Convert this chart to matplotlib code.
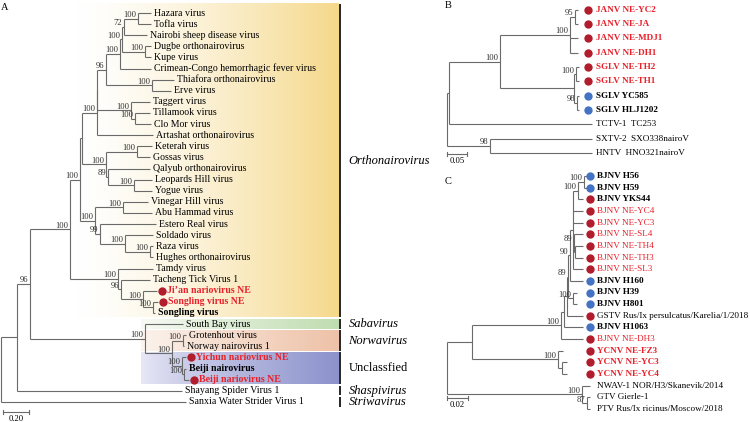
import numpy as np
import matplotlib.pyplot as plt

plt.rcParams['font.family'] = ['Liberation Serif', 'DejaVu Serif']

# ---------------- Panel A : Nairoviridae ----------------
a_leaves = ['Hazara virus', 'Tofla virus', 'Nairobi sheep disease virus', 'Dugbe orthonairovirus',
            'Kupe virus', 'Crimean-Congo hemorrhagic fever virus', 'Thiafora orthonairovirus',
            'Erve virus', 'Taggert virus', 'Tillamook virus', 'Clo Mor virus',
            'Artashat orthonairovirus', 'Keterah virus', 'Gossas virus', 'Qalyub orthonairovirus',
            'Leopards Hill virus', 'Yogue virus', 'Vinegar Hill virus', 'Abu Hammad virus',
            'Estero Real virus', 'Soldado virus', 'Raza virus', 'Hughes orthonairovirus',
            'Tamdy virus', 'Tacheng Tick Virus 1', 'Ji’an nariovirus NE', 'Songling virus NE',
            'Songling virus', 'South Bay virus', 'Grotenhout virus', 'Norway nairovirus 1',
            'Yichun nariovirus NE', 'Beiji nairovirus', 'Beiji nariovirus NE',
            'Shayang Spider Virus 1', 'Sanxia Water Strider Virus 1']
a_tips = [1.154, 1.154, 1.123, 1.154, 1.154, 1.154, 1.331, 1.308, 1.146, 1.146, 1.154, 1.169,
          1.162, 1.146, 1.146, 1.162, 1.162, 1.131, 1.162, 1.192, 1.169, 1.169, 1.169, 1.169,
          1.146, 1.200, 1.208, 1.185, 1.400, 1.423, 1.408, 1.423, 1.423, 1.446, 1.392, 1.423]
a_style = ['n'] * 25 + ['r', 'r', 'b', 'n', 'n', 'n', 'r', 'b', 'r', 'n', 'n']
a_dots = [None] * 25 + ['red', 'red', None, None, None, None, 'red', None, 'red', None, None]
# (node, depth, children, bootstrap)
a_nodes = [
    ('ht', 1.054, [0, 1], '100'), ('htn', 0.946, ['ht', 2], '72'),
    ('dk', 1.108, [3, 4], '100'), ('htndk', 0.931, ['htn', 'dk'], '100'),
    ('crim', 0.915, ['htndk', 5], '100'), ('te', 1.162, [6, 7], '100'),
    ('c96', 0.808, ['crim', 'te'], '96'), ('tc', 1.031, [9, 10], '100'),
    ('ttc', 1.000, [8, 'tc'], '100'), ('bx', 0.742, ['c96', 'ttc'], ''),
    ('b', 0.738, ['bx', 11], '100'), ('kg', 1.046, [12, 13], '100'),
    ('ly', 1.023, [15, 16], '100'), ('qly', 0.823, [14, 'ly'], '89'),
    ('kqly', 0.808, ['kg', 'qly'], '100'), ('cup', 0.623, ['b', 'kqly'], ''),
    ('va', 0.938, [17, 18], '100'), ('rh', 1.146, [21, 22], '100'),
    ('srh', 0.954, [20, 'rh'], '100'), ('esrh', 0.762, [19, 'srh'], '99'),
    ('ve', 0.723, ['va', 'esrh'], '100'), ('c', 0.608, ['cup', 've'], '100'),
    ('ss', 1.169, [26, 27], '100'), ('js', 1.092, [25, 'ss'], '100'),
    ('ts', 0.923, [24, 'js'], '96'), ('tam', 0.900, [23, 'ts'], '100'),
    ('n70', 0.531, ['c', 'tam'], '100'), ('gn', 1.400, [29, 30], '100'),
    ('bb', 1.408, [32, 33], '100'), ('yb', 1.392, [31, 'bb'], '100'),
    ('nw', 1.315, ['gn', 'yb'], '100'), ('sb', 1.108, [28, 'nw'], '100'),
    ('n30', 0.223, ['n70', 'sb'], '96'), ('n17', 0.123, ['n30', 34], ''),
    ('root', 0.0, ['n17', 35], ''),
]
# genus brackets: name, first leaf, last leaf, italic
a_clades = [('Orthonairovirus', 0, 27, True), ('Sabavirus', 28, 28, True),
            ('Norwavirus', 29, 30, True), ('Unclassfied', 31, 33, False),
            ('Shaspivirus', 34, 34, True), ('Striwavirus', 35, 35, True)]

# ---------------- Panel B ----------------
b_leaves = ['JANV NE-YC2', 'JANV NE-JA', 'JANV NE-MDJ1', 'JANV NE-DH1', 'SGLV NE-TH2',
            'SGLV NE-TH1', 'SGLV YC585', 'SGLV HLJ1202', 'TCTV-1  TC253',
            'SXTV-2  SXO338nairoV', 'HNTV  HNO321nairoV']
b_tips = [0.327, 0.327, 0.327, 0.327, 0.330, 0.330, 0.330, 0.330, 0.3625, 0.3625, 0.3625]
b_style = ['r'] * 6 + ['b', 'b', 'n', 'n', 'n']
b_dots = ['red'] * 6 + ['blue', 'blue', None, None, None]
b_nodes = [
    ('yj', 0.320, [0, 1], '95'), ('j', 0.3075, ['yj', 2, 3], '100'),
    ('th', 0.3225, [4, 5], '100'), ('sg', 0.325, [6, 7], '98'),
    ('s', 0.3175, ['th', 'sg'], ''), ('js', 0.1325, ['j', 's'], '100'),
    ('b1', 0.005, ['js', 8], ''), ('sh', 0.1075, [9, 10], '98'),
    ('root', 0.0, ['b1', 'sh'], ''),
]

# ---------------- Panel C ----------------
c_leaves = ['BJNV H56', 'BJNV H59', 'BJNV YKS44', 'BJNV NE-YC4', 'BJNV NE-YC3', 'BJNV NE-SL4',
            'BJNV NE-TH4', 'BJNV NE-TH3', 'BJNV NE-SL3', 'BJNV H160', 'BJNV H39', 'BJNV H801',
            'GSTV Rus/Ix persulcatus/Karelia/1/2018', 'BJNV H1063', 'BJNV NE-DH3',
            'YCNV NE-FZ3', 'YCNV NE-YC3', 'YCNV NE-YC4', 'NWAV-1 NOR/H3/Skanevik/2014',
            'GTV Gierle-1', 'PTV Rus/Ix ricinus/Moscow/2018']
c_tips = [0.1333, 0.1333, 0.1295, 0.1295, 0.1295, 0.1295, 0.1295, 0.1295, 0.1295, 0.1295,
          0.1238, 0.1238, 0.1295, 0.1295, 0.1295, 0.1105, 0.1143, 0.1143, 0.1362, 0.1362, 0.1362]
c_style = ['b', 'b', 'b'] + ['rn'] * 6 + ['b', 'b', 'b', 'n', 'b', 'rn', 'r', 'r', 'r', 'n', 'n', 'n']
c_dots = ['blue', 'blue', 'red'] + ['red'] * 6 + ['blue', 'blue', 'blue', 'red', 'blue', 'red',
                                                   'red', 'red', 'red', None, None, None]
c_nodes = [
    ('a', 0.1305, [0, 1], '100'), ('b', 0.1248, ['a', 2], '100'),
    ('c2', 0.1219, [6, 7], ''), ('c1', 0.1210, [5, 'c2'], '89'),
    ('c', 0.1200, ['b', 3, 4, 'c1', 8], ''), ('e', 0.1171, ['c', 9], '90'),
    ('h', 0.1200, [10, 11], '100'), ('f', 0.1152, ['e', 'h'], '89'),
    ('g', 0.1143, ['f', 12], ''), ('hh', 0.1114, ['g', 13], ''),
    ('i', 0.1086, ['hh', 14], '100'), ('yc', 0.1095, [16, 17], ''),
    ('y', 0.1057, [15, 'yc'], '100'), ('j', 0.0238, ['i', 'y'], ''),
    ('gp', 0.1333, [19, 20], '87'), ('nw', 0.1286, [18, 'gp'], '100'),
    ('root', 0.0, ['j', 'nw'], ''),
]

LINE = '#6a6a6a'
RED_TXT = '#e8212b'
DOT = {'red': '#b11d2c', 'blue': '#4573c4'}
W, H = 750, 422

fig = plt.figure(figsize=(W / 100, H / 100), dpi=100)


def make_axes(px_left, px_top, px_w, px_h, x0_px, px_per_unit, row0_px, row_px):
    ax = fig.add_axes([px_left / W, 1 - (px_top + px_h) / H, px_w / W, px_h / H])
    ax.set_xlim((px_left - x0_px) / px_per_unit, (px_left + px_w - x0_px) / px_per_unit)
    ax.set_ylim((px_top + px_h - row0_px) / row_px, (px_top - row0_px) / row_px)
    ax.axis('off')
    return ax


def draw_tree(ax, nodes, tips, px_per_unit, row_px, fs=6.2):
    info = {n[0]: n for n in nodes}
    ypos = {}

    def y_of(k):
        if isinstance(k, int):
            return k
        if k not in ypos:
            ch = info[k][2]
            ypos[k] = (y_of(ch[0]) + y_of(ch[-1])) / 2
        return ypos[k]

    def x_of(k):
        return tips[k] if isinstance(k, int) else info[k][1]

    for name, depth, children, boot in nodes:
        y = y_of(name)
        ys = [y_of(c) for c in children]
        ax.plot([depth, depth], [min(ys), max(ys)], color=LINE, lw=0.8, solid_capstyle='butt')
        for c in children:
            ax.plot([depth, x_of(c)], [y_of(c), y_of(c)], color=LINE, lw=0.8,
                    solid_capstyle='butt')
        if boot:
            ax.text(depth - 1.5 / px_per_unit, y - 1.5 / row_px, boot, ha='right',
                    va='baseline', fontsize=fs, color='#333333')


def draw_labels(ax, leaves, tips, style, dots, fs, dot_x=None, text_x=None,
                px_per_unit=1.0):
    for i, name in enumerate(leaves):
        st = style[i]
        color = RED_TXT if st.startswith('r') else 'black'
        weight = 'bold' if st in ('r', 'b') else 'normal'
        if dots[i]:
            dx = dot_x if dot_x is not None else tips[i] + 5 / px_per_unit
            ax.plot(dx, i, 'o', ms=6, color=DOT[dots[i]], mec='none', clip_on=False)
            tx = text_x if text_x is not None else dx + 5 / px_per_unit
        else:
            tx = text_x if text_x is not None else tips[i] + 3 / px_per_unit
        ax.text(tx, i, name, ha='left', va='center', fontsize=fs, color=color,
                fontweight=weight)


def grad_box(ax, x0, x1, y0, y1, c_left, c_right, gamma=1.0):
    t = np.linspace(0, 1, 256) ** gamma
    cl, cr = np.array(c_left) / 255, np.array(c_right) / 255
    cols = cl[None, :] * (1 - t[:, None]) + cr[None, :] * t[:, None]
    ax.imshow(cols[None, :, :], extent=(x0, x1, y1, y0), aspect='auto',
              interpolation='bilinear', zorder=0)


def scale_bar(ax, x0, length, y, label, row_px):
    ax.plot([x0, x0 + length], [y, y], color=LINE, lw=0.8)
    for xx in (x0, x0 + length):
        ax.plot([xx, xx], [y - 2 / row_px, y + 2 / row_px], color=LINE, lw=0.8)
    ax.text(x0 + length / 2, y + 3 / row_px, label, ha='center', va='top', fontsize=6.2)


# ---- A ----
PXA, ROWA = 130.0, 11.11
axA = make_axes(0, 0, 432, 422, 1, PXA, 13, ROWA)
box_right = 338 / PXA
grad_box(axA, 75 / PXA, box_right, -0.8, 27.4, (255, 255, 255), (245, 216, 138), 1.4)
grad_box(axA, 140 / PXA, box_right, 27.55, 28.45, (248, 251, 245), (192, 221, 177), 0.9)
grad_box(axA, 140 / PXA, box_right, 28.6, 30.45, (252, 244, 238), (238, 194, 168), 0.9)
grad_box(axA, 140 / PXA, box_right, 30.55, 33.38, (232, 232, 246), (140, 147, 204), 0.8)
draw_tree(axA, a_nodes, a_tips, PXA, ROWA)
draw_labels(axA, a_leaves, a_tips, a_style, a_dots, 7.1, px_per_unit=PXA)
bar_x = 339.5 / PXA
for name, first, last, italic in a_clades:
    top = -0.8 if first == 0 else first - 0.45
    bottom = 27.4 if first == 0 else last + 0.42
    axA.plot([bar_x, bar_x], [top, bottom], color='black', lw=1.2, solid_capstyle='butt')
    axA.text(bar_x + 8 / PXA, (top + bottom) / 2, name, ha='left', va='center', fontsize=9,
             fontstyle='italic' if italic else 'normal')
scale_bar(axA, 0.015, 0.20, 35.9, '0.20', ROWA)

# ---- B ----
PXB, ROWB = 400.0, 14.35
axB = make_axes(440, 0, 310, 165, 447, PXB, 9.5, ROWB)
draw_tree(axB, b_nodes, b_tips, PXB, ROWB)
draw_labels(axB, b_leaves, b_tips, b_style, b_dots, 6.6, dot_x=141 / PXB, text_x=149 / PXB)
scale_bar(axB, 0.0, 0.05, 10.07, '0.05', ROWB)

# ---- C ----
PXC, ROWC = 1050.0, 11.65
axC = make_axes(440, 165, 310, 257, 447, PXC, 176, ROWC)
draw_tree(axC, c_nodes, c_tips, PXC, ROWC)
draw_labels(axC, c_leaves, c_tips, c_style, c_dots, 6.6, dot_x=143 / PXC, text_x=150 / PXC)
scale_bar(axC, 0.0, 0.02, 19.06, '0.02', ROWC)

fig.text(5 / W, 1 - 7 / H, 'A', fontsize=7.5, ha='center', va='center')
fig.text(448 / W, 1 - 6 / H, 'B', fontsize=7.5, ha='center', va='center')
fig.text(448 / W, 1 - 181 / H, 'C', fontsize=7.5, ha='center', va='center')

fig.savefig('out.png', dpi=100)
